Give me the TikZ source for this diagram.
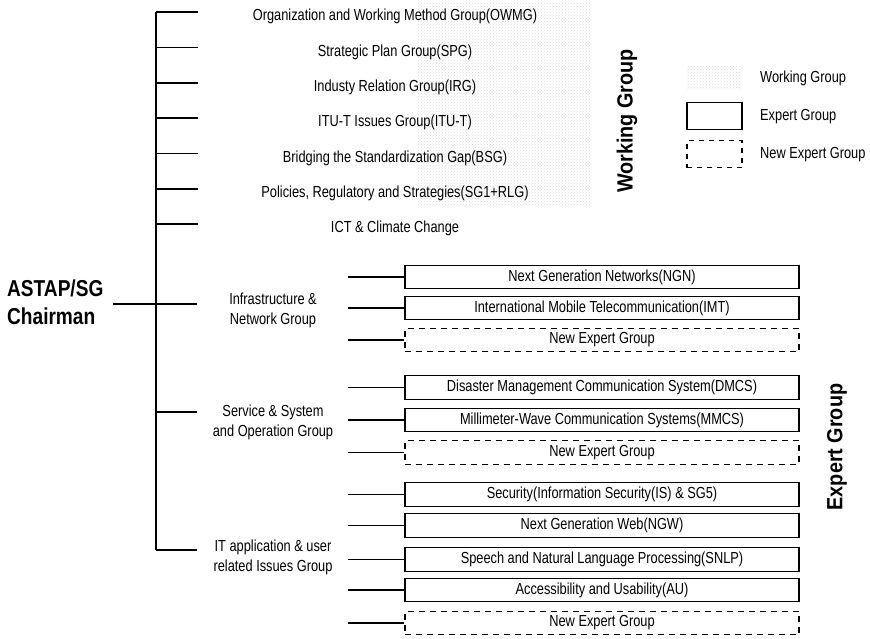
\documentclass[tikz,border=0pt]{standalone}
\usepackage{fontspec}
\setmainfont[FakeStretch=0.8]{Liberation Sans}
\newfontfamily\chairfont[FakeStretch=0.83]{Liberation Sans}
\newfontfamily\rotfont[FakeStretch=0.9]{Liberation Sans}
\usetikzlibrary{patterns}
\begin{document}
\begin{tikzpicture}[x=1pt,y=-1pt,
  every node/.style={font=\fontsize{16}{20}\selectfont, inner sep=0pt},
  conn/.style={line width=1.1pt},
  egbox/.style={draw, line width=1.1pt, minimum width=394pt, minimum height=23.5pt},
  newbox/.style={egbox, dashed, dash pattern=on 6pt off 5pt},
  wgtext/.style={anchor=center},
  grptext/.style={align=center, font=\fontsize{16}{20}\selectfont},
  shade/.style={pattern=crosshatch dots, pattern color=black!13},
  rottext/.style={rotate=90, font=\rotfont\bfseries\fontsize{22}{24}\selectfont}
]
\useasboundingbox (0,0) rectangle (870,638);

% halftone background of working group area
\fill[shade] (418,2) rectangle (592,206);

% chairman
\node[anchor=west, align=left, font=\chairfont\bfseries\fontsize{23}{28}\selectfont] (chair) at (7,302) {ASTAP/SG\\Chairman};

% main trunk
\coordinate (top) at (156,12);
\coordinate (bot) at (156,550);
\draw[conn] (top) -- (bot);

% working groups
\foreach \n/\y/\t in {
  w1/12/{Organization and Working Method Group(OWMG)},
  w2/47.5/{Strategic Plan Group(SPG)},
  w3/83/{Industy Relation Group(IRG)},
  w4/118/{ITU-T Issues Group(ITU-T)},
  w5/153.5/{Bridging the Standardization Gap(BSG)},
  w6/189/{Policies, Regulatory and Strategies(SG1+RLG)},
  w7/224/{ICT \& Climate Change}} {
  \coordinate (\n s) at (156,\y);
  \coordinate (\n e) at (198,\y);
  \draw[conn] (\n s) -- (\n e);
  \node[wgtext] (\n) at (395,\y+4.5) {\t};
}

% chairman connector
\coordinate (cs) at (113,304);
\coordinate (c1e) at (197,304);
\draw[conn] (cs) -- (c1e);

% expert groups sections
\coordinate (c2) at (156,412);
\coordinate (c2e) at (197,412);
\draw[conn] (c2) -- (c2e);
\coordinate (c3) at (156,550);
\coordinate (c3e) at (197,550);
\draw[conn] (c3) -- (c3e);

\node[grptext] (g1) at (273,310) {Infrastructure \&\\Network Group};
\node[grptext] (g2) at (273,422) {Service \& System\\and Operation Group};
\node[grptext] (g3) at (273,557) {IT application \& user\\related Issues Group};

% expert boxes
\foreach \n/\y/\t/\s in {
  e1/277/{Next Generation Networks(NGN)}/egbox,
  e2/308/{International Mobile Telecommunication(IMT)}/egbox,
  e3/340/{New Expert Group}/newbox,
  e4/387.5/{Disaster Management Communication System(DMCS)}/egbox,
  e5/420/{Millimeter-Wave Communication Systems(MMCS)}/egbox,
  e6/452.5/{New Expert Group}/newbox,
  e7/494.5/{Security(Information Security(IS) \& SG5)}/egbox,
  e8/525.5/{Next Generation Web(NGW)}/egbox,
  e9/559.5/{Speech and Natural Language Processing(SNLP)}/egbox,
  e10/590/{Accessibility and Usability(AU)}/egbox,
  e11/623/{New Expert Group}/newbox} {
  \node[\s] (\n) at (602,\y) {\t};
  \coordinate (\n s) at (348,\y);
  \draw[conn] (\n s) -- (\n.west);
}

% side titles
\node[rottext] (wgt) at (627,121) {Working Group};
\node[rottext] (egt) at (837,447) {Expert Group};

% legend
\node[shade, minimum width=55pt, minimum height=23pt] (lw) at (714.5,78) {};
\node[draw, line width=1.1pt, minimum width=55pt, minimum height=27pt] (le) at (714.5,116) {};
\node[draw, line width=1.1pt, dashed, dash pattern=on 5pt off 5pt, minimum width=55pt, minimum height=27pt] (ln) at (714.5,154) {};
\node[anchor=west] (lwt) at (760,78) {Working Group};
\node[anchor=west] (let) at (760,117) {Expert Group};
\node[anchor=west] (lnt) at (760,155) {New Expert Group};
\end{tikzpicture}
\end{document}
